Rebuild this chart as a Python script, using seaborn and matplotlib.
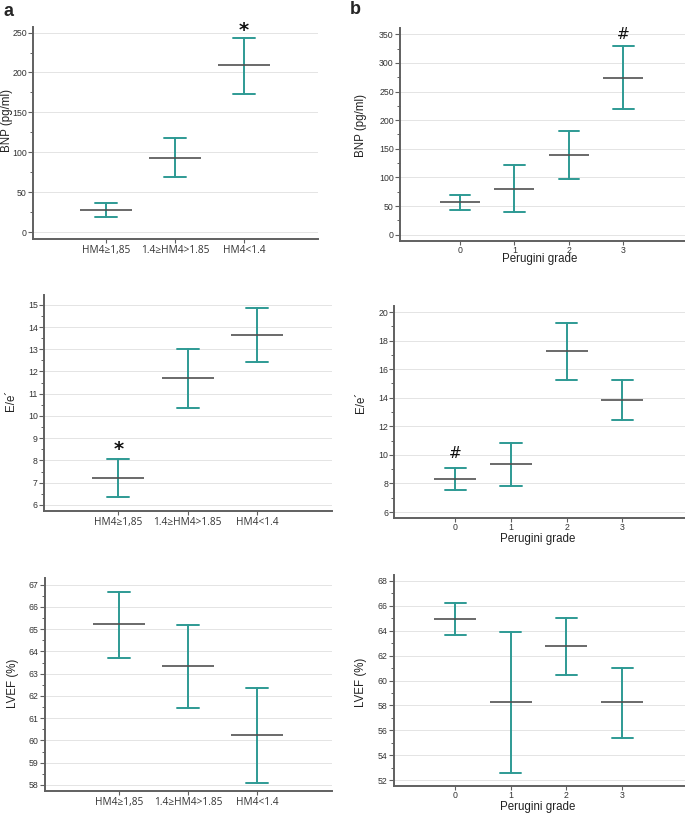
import numpy as np
import pandas as pd
import matplotlib
matplotlib.use("Agg")
import matplotlib.pyplot as plt
from matplotlib.ticker import MultipleLocator, AutoMinorLocator
import seaborn as sns

# --- data (means with 95% CI) ---
hm4_groups = ["HM4≥1,85", "1.4≥HM4>1.85", "HM4<1.4"]
perugini_groups = ["0", "1", "2", "3"]

bnp_hm_mean = [28, 93, 209]
bnp_hm_lo = [19, 69, 173]
bnp_hm_hi = [37, 118, 243]

bnp_per_mean = [57, 80, 139, 274]
bnp_per_lo = [43, 40, 97, 220]
bnp_per_hi = [69, 121, 181, 329]

ee_hm_mean = [7.21, 11.69, 13.65]
ee_hm_lo = [6.36, 10.36, 12.44]
ee_hm_hi = [8.08, 13.02, 14.86]

ee_per_mean = [8.31, 9.36, 17.25, 13.86]
ee_per_lo = [7.56, 7.84, 15.24, 12.42]
ee_per_hi = [9.06, 10.83, 19.25, 15.26]

lvef_hm_mean = [65.22, 63.33, 60.23]
lvef_hm_lo = [63.72, 61.46, 58.09]
lvef_hm_hi = [66.67, 65.20, 62.37]

lvef_per_mean = [64.93, 58.27, 62.75, 58.24]
lvef_per_lo = [63.63, 52.59, 60.45, 55.39]
lvef_per_hi = [66.21, 63.87, 65.01, 61.04]

# significance marks: (symbol, group index, y value)
marks_bnp_hm = [("*", 2, 253)]
marks_ee_hm = [("*", 0, 8.47)]
marks_bnp_per = [("#", 3, 350)]
marks_ee_per = [("#", 0, 10.06)]

TEAL = "#2e9a94"
MEAN_GRAY = "#505050"
SPINE = "#606060"

sns.set_style("white", {"xtick.bottom": True, "ytick.left": True})
plt.rcParams["font.family"] = ["Liberation Sans", "DejaVu Sans"]

W, H = 685, 815
fig = plt.figure(figsize=(W / 100, H / 100), dpi=100)


def px_rect(x0, y0, x1, y1):
    # pixel box (top-left origin) -> figure fraction rect
    return [x0 / W, (H - y1) / H, (x1 - x0) / W, (y1 - y0) / H]


def make_panel(rect, groups, mean, lo, hi, ylim, ystep, ylabel, ylab_xy,
               xlim, capsize, marks, xlabel=None, xlab_xy=None, cat_font=False):
    ax = fig.add_axes(rect)

    # long table: lower bound, mean, upper bound for every group
    df = pd.DataFrame({
        "group": np.repeat(groups, 3),
        "value": np.ravel(np.column_stack([lo, mean, hi])),
    })

    # CI whiskers with caps
    sns.pointplot(data=df, x="group", y="value", order=groups,
                  estimator="median", errorbar=lambda v: (v.min(), v.max()),
                  linestyle="none", marker="", capsize=capsize, color=TEAL,
                  err_kws={"linewidth": 1.4}, ax=ax)

    ax.set_xlim(*xlim)
    px_per_unit = rect[2] * W / (xlim[1] - xlim[0])
    # mean as a wide horizontal tick
    sns.pointplot(data=df, x="group", y="value", order=groups,
                  estimator="median", errorbar=None, linestyle="none",
                  marker="_", markersize=0.75 * px_per_unit * 0.72,
                  markeredgewidth=1.2, color=MEAN_GRAY, ax=ax)

    ax.set_xlim(*xlim)
    ax.set_ylim(*ylim)
    ax.yaxis.set_major_locator(MultipleLocator(ystep))
    ax.yaxis.set_minor_locator(AutoMinorLocator(2))
    ax.yaxis.grid(True, which="major", color="#e4e4e4", linewidth=0.7)
    ax.xaxis.grid(False)
    ax.set_axisbelow(True)

    sns.despine(ax=ax)
    for side in ["left", "bottom"]:
        ax.spines[side].set_color(SPINE)
        ax.spines[side].set_linewidth(1.4)

    ax.tick_params(axis="y", which="major", direction="out", length=3.5,
                   width=0.8, color=SPINE, labelsize=6.3, labelcolor="#333333", pad=1)
    ax.tick_params(axis="y", which="minor", direction="out", length=2,
                   width=0.7, color=SPINE)
    if cat_font:
        ax.tick_params(axis="x", which="major", direction="out", length=3,
                       width=0.8, color=SPINE, labelcolor="#333333", pad=1.5)
        for t in ax.get_xticklabels():
            t.set_fontfamily(["Open Sans", "DejaVu Sans"])
            t.set_fontsize(7.3)
    else:
        ax.tick_params(axis="x", which="major", direction="out", length=3,
                       width=0.8, color=SPINE, labelcolor="#333333", pad=0.5)
        for t in ax.get_xticklabels():
            t.set_fontsize(6.3)

    ax.set_ylabel(ylabel, fontsize=8.3, color="#222222")
    ax.yaxis.label.set_verticalalignment("center")
    ax.yaxis.set_label_coords(*ylab_xy)
    if xlabel:
        ax.set_xlabel(xlabel, fontsize=8.3, color="#222222")
        ax.xaxis.label.set_verticalalignment("center")
        ax.xaxis.set_label_coords(*xlab_xy)
    else:
        ax.set_xlabel("")

    for sym, gi, yv in marks:
        if sym == "*":
            ax.text(gi, yv, sym, ha="center", va="center", fontsize=14,
                    fontweight="bold", family="DejaVu Sans", color="#111111")
        else:
            ax.text(gi, yv, sym, ha="center", va="center", fontsize=11,
                    family="DejaVu Sans", color="#111111")
    return ax


hm_xlim = (-1.07, 3.08)
per_xlim = (-1.1, 4.13)

# row 1
make_panel(px_rect(33, 27, 318, 238.5), hm4_groups, bnp_hm_mean, bnp_hm_lo, bnp_hm_hi,
           (-8.1, 257), 50, "BNP (pg/ml)", (-0.092, 0.56), hm_xlim, 0.32,
           marks_bnp_hm, cat_font=True)
make_panel(px_rect(400, 28, 685, 240.7), perugini_groups, bnp_per_mean, bnp_per_lo, bnp_per_hi,
           (-10.5, 361), 50, "BNP (pg/ml)", (-0.137, 0.54), per_xlim, 0.38,
           marks_bnp_per, xlabel="Perugini grade", xlab_xy=(0.49, -0.088))

# row 2
make_panel(px_rect(44, 295, 332, 510.7), hm4_groups, ee_hm_mean, ee_hm_lo, ee_hm_hi,
           (5.74, 15.44), 1, "E/e´", (-0.113, 0.513), hm_xlim, 0.32,
           marks_ee_hm, cat_font=True)
make_panel(px_rect(394.3, 306, 685, 518), perugini_groups, ee_per_mean, ee_per_lo, ee_per_hi,
           (5.58, 20.42), 2, "E/e´", (-0.115, 0.547), per_xlim, 0.38,
           marks_ee_per, xlabel="Perugini grade", xlab_xy=(0.494, -0.1))

# row 3
make_panel(px_rect(45, 578, 332, 790.7), hm4_groups, lvef_hm_mean, lvef_hm_lo, lvef_hm_hi,
           (57.74, 67.3), 1, "LVEF (%)", (-0.113, 0.506), hm_xlim, 0.32,
           [], cat_font=True)
make_panel(px_rect(394, 575, 685, 786), perugini_groups, lvef_per_mean, lvef_per_lo, lvef_per_hi,
           (51.52, 68.48), 2, "LVEF (%)", (-0.113, 0.49), per_xlim, 0.38,
           [], xlabel="Perugini grade", xlab_xy=(0.495, -0.1))

# panel letters
fig.text(9 / W, 1 - 11 / H, "a", fontsize=13, fontweight="bold", ha="center", va="center")
fig.text(355 / W, 1 - 10 / H, "b", fontsize=13, fontweight="bold", ha="center", va="center")

fig.savefig("out.png", dpi=100)
